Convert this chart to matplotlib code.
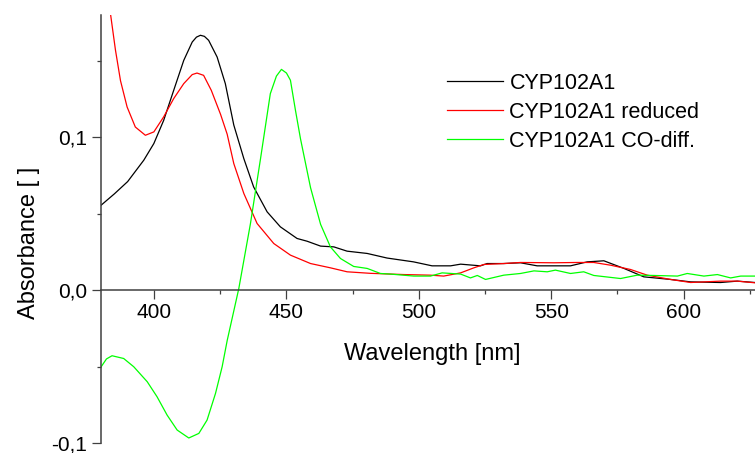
import numpy as np
import matplotlib
matplotlib.use("Agg")
import matplotlib.pyplot as plt
from matplotlib.ticker import MultipleLocator, FuncFormatter

plt.rcParams['font.family'] = ['Liberation Sans', 'DejaVu Sans']

# CYP102A1 (oxidised)
wl_ox = [380, 385, 390, 396.1, 399.9, 403.6, 407.4, 411.2, 414.4, 416, 417.5, 419, 420.6,
         423.8, 426.9, 430.1, 433.9, 437.6, 442.7, 447.7, 454, 457.8, 462.9, 467.9, 472.9,
         480.5, 488, 498, 505, 512, 515.8, 523.3, 525.8, 532, 538.4, 544.7, 557.3, 563.6,
         569.9, 577.5, 585, 595.1, 602.7, 614, 620.3, 627]
abs_ox = [0.0556, 0.063, 0.071, 0.085, 0.0959, 0.111, 0.1307, 0.1503, 0.1623, 0.1655, 0.1667,
          0.1660, 0.1634, 0.1525, 0.1351, 0.108, 0.086, 0.0675, 0.0512, 0.0414, 0.0338, 0.032,
          0.0288, 0.0283, 0.0255, 0.024, 0.021, 0.0185, 0.0159, 0.0159, 0.017, 0.0159, 0.0174,
          0.0174, 0.0179, 0.0159, 0.0159, 0.0185, 0.0192, 0.0142, 0.0087, 0.007, 0.0054,
          0.005, 0.0059, 0.005]

# CYP102A1 reduced
wl_red = [380, 382, 383.5, 385.4, 387.3, 389.8, 392.9, 396.7, 399.9, 403.6, 407.4, 411.2,
          414.4, 416.2, 418.7, 421.6, 425.1, 427.6, 430.1, 433.9, 438.9, 445.2, 451.5, 459.1,
          466.6, 472.9, 481.7, 494.3, 504.4, 509.4, 515.8, 520.8, 524.6, 532.1, 538.4, 551,
          559.9, 566.1, 572.5, 580, 586.3, 595.1, 602.7, 614, 620.3, 627]
abs_red = [0.23, 0.20, 0.181, 0.157, 0.137, 0.1198, 0.1067, 0.1013, 0.1035, 0.1133, 0.1253,
           0.1351, 0.141, 0.142, 0.1405, 0.1307, 0.115, 0.102, 0.0828, 0.0632, 0.0436, 0.0305,
           0.0229, 0.0174, 0.0146, 0.012, 0.011, 0.0102, 0.0098, 0.0092, 0.0113, 0.0146, 0.0168,
           0.0174, 0.0181, 0.0179, 0.0181, 0.0181, 0.0163, 0.0135, 0.0098, 0.007, 0.005, 0.0059,
           0.0059, 0.0048]

# CYP102A1 CO-difference
wl_co = [380, 382, 384.1, 388.5, 392.3, 397.4, 401.1, 404.9, 408.7, 413.1, 416.9, 420,
         423.2, 425.7, 427.6, 432, 436.4, 440.2, 443.9, 446.2, 448.1, 450, 451.5, 453.4,
         455.3, 459.1, 462.9, 466.6, 470.4, 475.4, 480.5, 485.5, 489.3, 498.1, 504.4, 508.8,
         515.8, 519.5, 522.1, 525.2, 532.1, 538.4, 543.5, 548.5, 551.6, 557.3, 562.3, 566.1,
         576.2, 582.5, 588.8, 597.7, 601.4, 607.7, 612.8, 617.8, 621.6, 627]
abs_co = [-0.0501, -0.045, -0.0429, -0.0447, -0.0501, -0.0599, -0.0697, -0.0817, -0.0915,
          -0.0967, -0.0937, -0.085, -0.0675, -0.0501, -0.033, 0.0011, 0.0436, 0.086, 0.1285,
          0.140, 0.1444, 0.142, 0.1373, 0.1176, 0.099, 0.067, 0.043, 0.0283, 0.0207, 0.0155,
          0.0142, 0.0109, 0.0105, 0.0092, 0.0092, 0.0113, 0.0105, 0.008, 0.0096, 0.007, 0.0098,
          0.0109, 0.0126, 0.012, 0.0131, 0.0109, 0.012, 0.0096, 0.0076, 0.0098, 0.0096, 0.0092,
          0.0109, 0.0092, 0.0102, 0.008, 0.0092, 0.0092]

fig = plt.figure(figsize=(7.55, 4.53), dpi=100)
ax = fig.add_axes([0.134, 0.022, 0.866, 0.945])

ax.plot(wl_ox, abs_ox, color='black', lw=0.9, label='CYP102A1')
ax.plot(wl_red, abs_red, color='#ff0000', lw=0.9, label='CYP102A1 reduced')
ax.plot(wl_co, abs_co, color='#00ff00', lw=0.9, label='CYP102A1 CO-diff.')

ax.set_xlim(380, 627)
ax.set_ylim(-0.1, 0.18)

# axis crosses at y = 0
ax.spines['bottom'].set_position(('data', 0))
ax.spines['top'].set_visible(False)
ax.spines['right'].set_visible(False)
for s in ('left', 'bottom'):
    ax.spines[s].set_color('#404040')
    ax.spines[s].set_linewidth(1.1)

ax.xaxis.set_major_locator(MultipleLocator(50))
ax.xaxis.set_minor_locator(MultipleLocator(25))
ax.yaxis.set_major_locator(MultipleLocator(0.1))
ax.yaxis.set_minor_locator(MultipleLocator(0.05))
ax.yaxis.set_major_formatter(FuncFormatter(lambda v, p: f"{v:.1f}".replace('.', ',').replace('-0,0', '0,0')))
ax.tick_params(which='major', length=6.5, width=0.9, color='#404040', labelsize=15, direction='out')
ax.tick_params(which='minor', length=3, width=0.9, color='#404040', direction='out')
ax.tick_params(axis='x', pad=2.5)

ax.set_xlabel('Wavelength [nm]', fontsize=17)
ax.set_ylabel('Absorbance [ ]', fontsize=17)
ax.xaxis.set_label_coords(0.506, 0.234)
ax.yaxis.set_label_coords(-0.094, 0.467)

ax.legend(loc='upper left', bbox_to_anchor=(447 / 755, 1 - 73 / 453),
          bbox_transform=fig.transFigure, frameon=False, fontsize=15.5,
          handlelength=2.6, handletextpad=0.3, labelspacing=0.37,
          borderpad=0, borderaxespad=0)

fig.savefig('out.png', dpi=100)
